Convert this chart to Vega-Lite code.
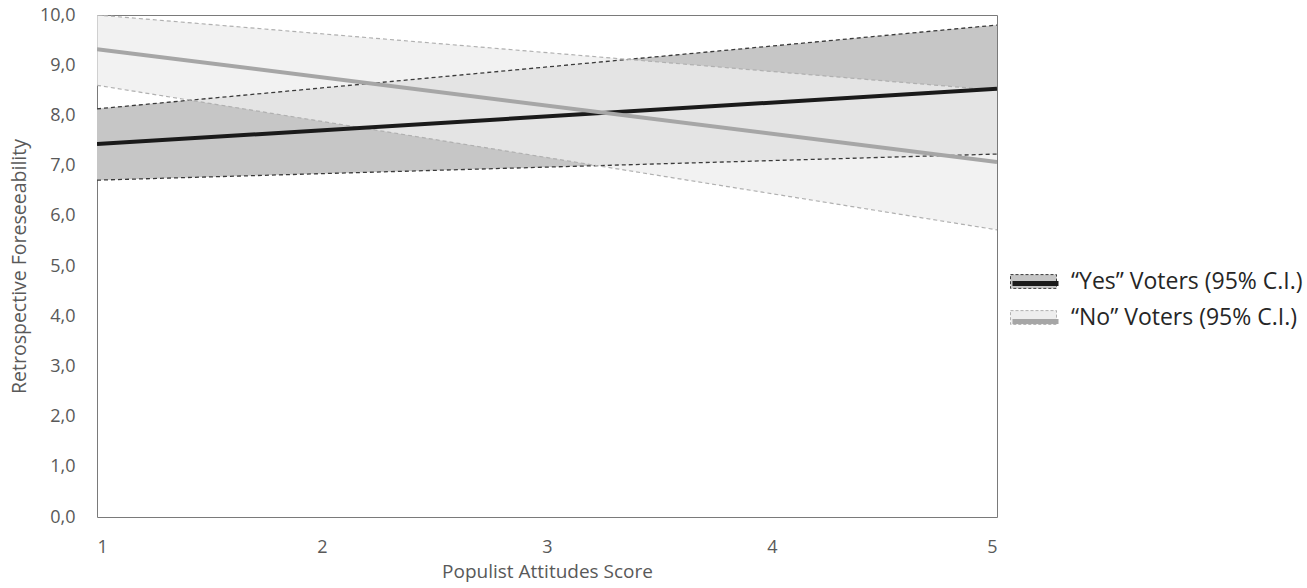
{
  "$schema": "https://vega.github.io/schema/vega-lite/v6.json",
  "autosize": {"type": "none"},
  "width": 900,
  "height": 502,
  "padding": {"left": 97, "top": 15, "right": 310, "bottom": 71},
  "background": "white",
  "config": {
    "view": {"stroke": "#7a7a7a", "strokeWidth": 1},
    "font": "Open Sans"
  },
  "data": {
    "values": [
      {"group": "“Yes” Voters (95% C.I.)", "series": "“Yes” Voters (95% C.I.)", "x": 1, "fit": 7.43, "lo": 6.71, "hi": 8.13},
      {"group": "“Yes” Voters (95% C.I.)", "series": "“Yes” Voters (95% C.I.)", "x": 5, "fit": 8.53, "lo": 7.23, "hi": 9.8},
      {"group": "“No” Voters (95% C.I.)", "series": "“No” Voters (95% C.I.)", "x": 1, "fit": 9.32, "lo": 8.6, "hi": 10.0},
      {"group": "“No” Voters (95% C.I.)", "series": "“No” Voters (95% C.I.)", "x": 5, "fit": 7.07, "lo": 5.72, "hi": 8.5}
    ]
  },
  "encoding": {
    "x": {
      "field": "x", "type": "quantitative",
      "scale": {"domain": [1, 5], "nice": false, "zero": false},
      "axis": {
        "title": "Populist Attitudes Score", "values": [1, 2, 3, 4, 5], "format": "d",
        "grid": false, "domain": false, "ticks": false, "labelPadding": 21,
        "labelFontSize": 18, "labelColor": "#595959", "labelFont": "Open Sans",
        "titleFontSize": 19, "titleFontWeight": "normal", "titleColor": "#595959",
        "titlePadding": 6, "titleFont": "Open Sans"
      }
    }
  },
  "layer": [
    {
      "transform": [{"filter": "indexof(datum.group, 'Yes') >= 0"}],
      "mark": {"type": "area", "clip": true},
      "encoding": {
        "y": {"field": "lo", "type": "quantitative",
          "scale": {"domain": [0, 10], "nice": false},
          "axis": {
            "title": "Retrospective Foreseeability", "values": [0,1,2,3,4,5,6,7,8,9,10],
            "format": ".1f", "labelExpr": "replace(datum.label, '.', ',')",
            "grid": false, "domain": false, "ticks": false, "labelPadding": 22,
            "labelFontSize": 18, "labelColor": "#595959", "labelFont": "Open Sans",
            "titleFontSize": 19.5, "titleFontWeight": "normal", "titleColor": "#595959",
            "titlePadding": 10, "titleFont": "Open Sans"
          }
        },
        "y2": {"field": "hi"},
        "fill": {
          "field": "group", "type": "nominal",
          "scale": {"domain": ["“Yes” Voters (95% C.I.)", "“No” Voters (95% C.I.)"], "range": ["#c6c6c6", "#eeeeee"]},
          "legend": {
            "title": null, "orient": "none", "legendX": 913, "legendY": 243, "zindex": 0,
            "symbolType": "M-1,-0.3H1V0.3H-1Z", "symbolSize": 2116, "symbolOpacity": 1,
            "labelFontSize": 23, "labelColor": "#262626", "labelFont": "Open Sans",
            "labelOffset": 14, "rowPadding": 0, "labelLimit": 400,
            "encode": {
              "symbols": {
                "update": {
                  "stroke": {"signal": "indexof(datum.value, 'Yes') >= 0 ? '#3a3a3a' : '#b0b0b0'"},
                  "strokeDash": {"value": [3, 2]},
                  "strokeWidth": {"value": 1}
                }
              }
            }
          }
        }
      }
    },
    {
      "transform": [{"filter": "indexof(datum.group, 'No') >= 0"}],
      "mark": {"type": "area", "opacity": 0.75, "clip": true},
      "encoding": {
        "y": {"field": "lo", "type": "quantitative"},
        "y2": {"field": "hi"},
        "fill": {"field": "group", "type": "nominal", "legend": null}
      }
    },
    {
      "transform": [{"filter": "indexof(datum.group, 'Yes') >= 0"}],
      "layer": [
        {"mark": {"type": "line", "stroke": "#3a3a3a", "strokeWidth": 1.3, "strokeDash": [4, 3], "clip": true},
         "encoding": {"y": {"field": "lo", "type": "quantitative"}}},
        {"mark": {"type": "line", "stroke": "#3a3a3a", "strokeWidth": 1.3, "strokeDash": [4, 3], "clip": true},
         "encoding": {"y": {"field": "hi", "type": "quantitative"}}}
      ]
    },
    {
      "transform": [{"filter": "indexof(datum.group, 'No') >= 0"}],
      "layer": [
        {"mark": {"type": "line", "stroke": "#b0b0b0", "strokeWidth": 1.2, "strokeDash": [4, 3], "clip": true},
         "encoding": {"y": {"field": "lo", "type": "quantitative"}}},
        {"mark": {"type": "line", "stroke": "#b0b0b0", "strokeWidth": 1.2, "strokeDash": [4, 3], "clip": true},
         "encoding": {"y": {"field": "hi", "type": "quantitative"}}}
      ]
    },
    {
      "mark": {"type": "line", "strokeWidth": 4, "clip": true},
      "encoding": {
        "y": {"field": "fit", "type": "quantitative"},
        "stroke": {
          "field": "series", "type": "nominal",
          "scale": {"domain": ["“Yes” Voters (95% C.I.)", "“No” Voters (95% C.I.)"], "range": ["#1a1a1a", "#a6a6a6"]},
          "legend": {
            "title": null, "orient": "none", "legendX": 913, "legendY": 243, "zindex": 2,
            "symbolType": "stroke", "symbolSize": 2116, "symbolStrokeWidth": 5,
            "labelFontSize": 23, "labelExpr": "''", "labelFont": "Open Sans",
            "labelOffset": 14, "rowPadding": 0, "labelLimit": 400
          }
        }
      }
    }
  ],
  "resolve": {"scale": {"y": "shared"}, "legend": {"fill": "independent", "stroke": "independent"}}
}
